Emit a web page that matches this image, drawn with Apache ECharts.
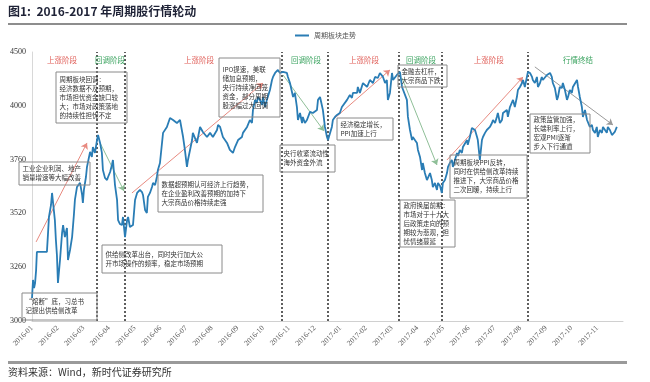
<!DOCTYPE html>
<html><head><meta charset="utf-8">
<script src="https://cdn.jsdelivr.net/npm/echarts@6/dist/echarts.min.js"></script>
<style>html,body{margin:0;padding:0;background:#fff}#c{width:650px;height:382px}</style>
</head><body><div id="c"></div>
<script>
// ---------- data ----------
const months = ['2016-01','2016-02','2016-03','2016-04','2016-05','2016-06','2016-07','2016-08','2016-09','2016-10','2016-11','2016-12','2017-01','2017-02','2017-03','2017-04','2017-05','2017-06','2017-07','2017-08','2017-09','2017-10','2017-11'];
const yTickLabels = ['3000','3260','3520','3760','4000','4500'];
const seriesName = '周期板块走势';
// [month position (0 = 2016-01), index level]
const sectorTrend = [
[0.00,3128],[0.04,3229],[0.08,3184],[0.12,3212],[0.16,3284],[0.19,3385],[0.31,3385],[0.47,3385],[0.58,3385],[0.62,3480],[0.66,3580],[0.74,3647],[0.78,3714],[0.82,3725],[0.89,3563],[0.93,3452],[0.97,3368],[1.01,3212],[1.09,3340],[1.17,3491],[1.21,3535],[1.28,3468],[1.36,3519],[1.40,3340],[1.44,3368],[1.48,3396],[1.56,3468],[1.63,3591],[1.67,3675],[1.75,3747],[1.87,3770],[1.95,3703],[1.98,3658],[2.02,3731],[2.10,3803],[2.14,3859],[2.26,3943],[2.33,3915],[2.37,3970],[2.45,3937],[2.53,4009],[2.57,4037],
[2.65,3993],[2.72,3937],[2.76,3842],[2.84,3798],[2.92,3786],[2.96,3803],[3.04,3831],[3.11,3870],[3.15,3898],[3.23,3758],[3.31,3675],[3.35,3563],[3.42,3541],[3.50,3535],[3.54,3580],[3.62,3468],[3.70,3563],[3.74,3580],[3.81,3524],[3.93,3535],[4.01,3675],[4.09,3714],[4.20,3731],[4.28,3719],[4.32,3703],[4.40,3619],[4.47,3602],[4.51,3692],[4.59,3714],[4.67,3747],[4.71,3770],[4.79,3758],[4.86,3803],[4.90,3842],[4.98,3881],[5.10,4049],[5.25,4082],[5.37,4132],[5.49,4121],[5.64,4104],[5.76,4121],[5.88,4026],[5.95,3954],[6.03,3859],[6.07,3898],[6.23,4009],[6.26,4049],[6.42,3993],[6.54,4082],[6.65,4054],[6.81,4026],[6.93,4049],[7.04,4026],[7.20,4065],[7.24,4093],[7.32,4082],
[7.43,4026],[7.59,3993],[7.70,3954],[7.82,3937],[7.90,3970],[8.02,4009],[8.17,4026],[8.21,4049],[8.37,4082],[8.48,4121],[8.56,4104],[8.60,4177],[8.68,4233],[8.75,4216],[8.79,4249],[8.87,4233],[8.95,4205],[8.99,4249],[9.07,4193],[9.14,4233],[9.26,4288],[9.34,4344],[9.38,4361],[9.46,4383],[9.57,4400],[9.65,4383],[9.77,4389],[9.84,4400],[9.92,4383],[9.96,4361],[10.04,4327],[10.16,4249],[10.23,4272],[10.31,4193],[10.35,4121],[10.43,4160],[10.51,4104],[10.54,4138],[10.62,4104],[10.70,4121],[10.82,4166],[10.93,4160],[11.09,4177],[11.13,4233],[11.21,4249],[11.28,4244],[11.32,4177],[11.40,4082],[11.48,4026],[11.52,4009],
[11.60,4049],[11.67,4082],[11.71,4121],[11.79,4138],[11.87,4149],[11.98,4160],[12.06,4193],[12.26,4233],[12.37,4260],[12.45,4244],[12.49,4272],[12.65,4272],[12.68,4305],[12.76,4272],[12.88,4327],[13.04,4305],[13.15,4344],[13.27,4327],[13.35,4361],[13.46,4355],[13.54,4383],[13.66,4361],[13.74,4327],[13.81,4344],[13.85,4233],[13.93,4272],[14.01,4383],[14.05,4344],[14.20,4372],[14.24,4361],[14.32,4389],[14.40,4305],[14.59,4233],[14.63,4138],[14.71,4065],[14.79,4009],[14.82,4026],[14.98,3993],[15.02,3954],[15.10,3915],
[15.18,3842],[15.21,3881],[15.29,3825],[15.37,3786],[15.49,3825],[15.56,3786],[15.60,3747],[15.68,3770],[15.76,3731],[15.80,3770],[15.88,3753],[15.95,3714],[15.99,3770],[16.07,3786],[16.15,3825],[16.19,3859],[16.26,3881],[16.34,3898],[16.38,3859],[16.46,3898],[16.54,3937],[16.58,3920],[16.65,3954],[16.73,3937],[16.77,3970],[16.93,4009],[16.96,3982],[17.04,4026],[17.12,4076],[17.16,4082],[17.24,4065],[17.32,4026],[17.35,4009],[17.43,3898],[17.51,4009],[17.55,4026],[17.63,4049],[17.70,4065],[17.82,4082],[17.90,4104],[17.94,4121],[18.02,4104],[18.09,4138],[18.13,4160],[18.21,4104],[18.29,4121],[18.33,4160],[18.48,4177],[18.52,4138],[18.60,4193],[18.72,4233],[18.79,4193],[18.87,4249],[18.91,4288],[18.99,4305],[19.07,4327],[19.11,4344],[19.18,4305],[19.26,4361],[19.30,4389],
[19.38,4383],[19.46,4361],[19.49,4344],[19.57,4327],[19.65,4361],[19.69,4305],[19.77,4327],[19.84,4361],[19.88,4344],[20.04,4372],[20.16,4383],[20.23,4361],[20.27,4327],[20.35,4299],[20.43,4233],[20.47,4249],[20.54,4305],[20.62,4299],[20.66,4327],[20.74,4288],[20.82,4233],[20.86,4249],[20.93,4288],[21.01,4272],[21.05,4305],[21.21,4344],[21.25,4305],[21.32,4249],[21.40,4193],[21.44,4138],[21.52,4177],[21.60,4121],[21.71,4082],[21.79,4093],[21.83,4065],[21.91,4049],[21.98,4082],[22.02,4026],[22.10,4065],[22.18,4049],[22.22,4082],[22.30,4065],[22.37,4049],[22.41,4082],[22.49,4065],[22.57,4037],[22.61,4026],[22.68,4054],[22.76,4082]
];
// phase boundaries (month positions)
const phaseBreaks = [2.53, 3.62, 9.73, 11.52, 14.28, 15.95, 19.30];
const phaseNames = ['上涨阶段','回调阶段','上涨阶段','回调阶段','上涨阶段','回调阶段','上涨阶段','行情终结'];
const phaseCenters = [1.17, 3.04, 6.50, 10.66, 12.92, 15.14, 17.78, 21.25];
const phaseLabelLevel = 4456;
// trend arrows: [from], [to], direction
const trendArrows = [
  [[0.16,3441],[2.14,3993],'up'],
  [[2.65,3993],[3.58,3725],'down'],
  [[3.89,3714],[8.99,4327],'up'],
  [[9.77,4372],[11.36,4060],'down'],
  [[11.79,4132],[13.93,4400],'up'],
  [[14.40,4355],[15.76,3870],'down'],
  [[16.15,3898],[19.11,4361],'up'],
  [[19.57,4417],[22.61,4093],'end']
];
const noteTexts = [
  ['周期板块回调：','经济数据不及预期，','市场担忧资金缺口较','大；市场对政策落地','的持续性担忧不定'],
  ['工业企业利润、地产','销量增速等大幅改善'],
  ['数据超预期认可经济上行趋势，','在企业盈利改善预期的加持下','大宗商品价格持续走强'],
  ['供给侧改革出台，同时央行加大公','开市场操作的频率，稳定市场预期'],
  ['“熔断”底，习总书','记提出供给侧改革'],
  ['IPO提速，美联','储加息预期，','央行持续净回笼','资金，部分周期','股涨幅过大回调'],
  ['央行收紧流动性','海外资金外流'],
  ['经济稳定增长，','PPI加速上行'],
  ['金融去杠杆，','大宗商品下跌'],
  ['周期板块PPI反转，','同时在供给侧改革持续','推进下，大宗商品价格','二次回暖，持续上行'],
  ['政府换届前期：','市场对于十九大','后政策走向的预','期较为悲观，担','忧情绪蔓延'],
  ['政策监管加强，','长端利率上行，','宏观PMI逐渐','步入下行通道']
];
const titleText = '图1:  2016-2017 年周期股行情轮动';
const sourceText = '资料来源：Wind，新时代证券研究所';

// ---------- layout / style ----------
const noteBoxes = [
  [56,72,71,51],[19,162,71,23],[158,175,105,37],[102,245,120,28],[22,293,75,27],
  [219,58,61,59],[280,145,55,27],[337,118,56,22],[398,65,49,22],[450,155,77,43],
  [400,200,55,47],[530,114,60,39]
];
const RED = '#e0605a', GREEN = '#3aa35f';
const arrowColor = {up:'#e88a80', down:'#8fbf98', end:'#9a9a9a'};
const headColor = {up:'#d9342b', down:'#2f9e45', end:'#555'};

const graphics = [
  {type:'text', left:8, top:5, style:{text:titleText, font:'bold 12px "Noto Sans CJK SC"', fill:'#1e2236'}},
  {type:'rect', shape:{x:8,y:23,width:619,height:2}, style:{fill:'#8d8d8d'}},
  {type:'rect', shape:{x:8,y:361,width:619,height:3}, style:{fill:'#9a9a9a'}},
  {type:'text', left:8, top:367, style:{text:sourceText, font:'10px "Noto Sans CJK SC"', fill:'#333'}}
];
noteBoxes.forEach((b,i)=>{
  graphics.push({type:'rect', shape:{x:b[0],y:b[1],width:b[2],height:b[3]}, style:{fill:'none', stroke:'#8a8a8a', lineWidth:1}, z:50});
  graphics.push({type:'text', x:b[0]+3.5, y:b[1]+b[3]/2, style:{text:noteTexts[i].join('\n'), font:'6.5px "Noto Sans CJK SC"', fill:'#333', lineHeight:9, verticalAlign:'middle', align:'left'}, z:51});
});

const chart = echarts.init(document.getElementById('c'), null, {renderer:'canvas'});
chart.setOption({
  animation:false,
  backgroundColor:'#fff',
  legend:{data:[seriesName], left:290, top:27, icon:'rect', itemWidth:14, itemHeight:2, itemGap:4,
    textStyle:{fontSize:7, color:'#555', fontFamily:'Noto Sans CJK SC'}},
  grid:{left:32, right:27, top:52, bottom:61},
  xAxis:{type:'value', min:0, max:23, interval:1,
    axisLine:{show:true, lineStyle:{color:'#d0d0d0'}}, axisTick:{show:false}, splitLine:{show:false},
    axisLabel:{rotate:45, fontSize:7.5, color:'#555', fontFamily:'Liberation Serif', margin:6,
      formatter:v=> (Number.isInteger(v) && v < months.length) ? months[v] : ''}},
  yAxis:{type:'value', min:3000, max:4500, interval:300,
    axisLine:{show:true, lineStyle:{color:'#d8d8d8'}}, axisTick:{show:false}, splitLine:{show:false},
    axisLabel:{fontSize:8, color:'#333', fontFamily:'Liberation Serif', margin:6,
      formatter:v=> yTickLabels[Math.round((v-3000)/300)] || ''}},
  graphic:graphics,
  series:[
    {name:seriesName, type:'line', data:sectorTrend, showSymbol:false, symbol:'none',
      lineStyle:{color:'#2a7db5', width:1.8}, itemStyle:{color:'#2a7db5'}, z:10,
      markLine:{silent:true, symbol:'none', label:{show:false},
        lineStyle:{type:[2,2], color:'#2a2a2a', width:1.5},
        data:phaseBreaks.map(m=>({xAxis:m}))}},
    {name:'trend', type:'line', data:[], z:12,
      markLine:{silent:true, symbol:['none','arrow'], symbolSize:6, label:{show:false},
        data:trendArrows.map(a=>[
          {coord:a[0], lineStyle:{color:arrowColor[a[2]], width:1, type:'solid'}},
          {coord:a[1], itemStyle:{color:headColor[a[2]]}}
        ])},
      markPoint:{silent:true, symbol:'circle', symbolSize:1, itemStyle:{color:'rgba(0,0,0,0)'},
        data:phaseNames.map((n,i)=>({coord:[phaseCenters[i], phaseLabelLevel],
          label:{show:true, position:'inside', formatter:n, fontSize:7.5, fontFamily:'Noto Sans CJK SC',
            color: n==='上涨阶段' ? RED : GREEN}}))}}
  ]
});
</script></body></html>
